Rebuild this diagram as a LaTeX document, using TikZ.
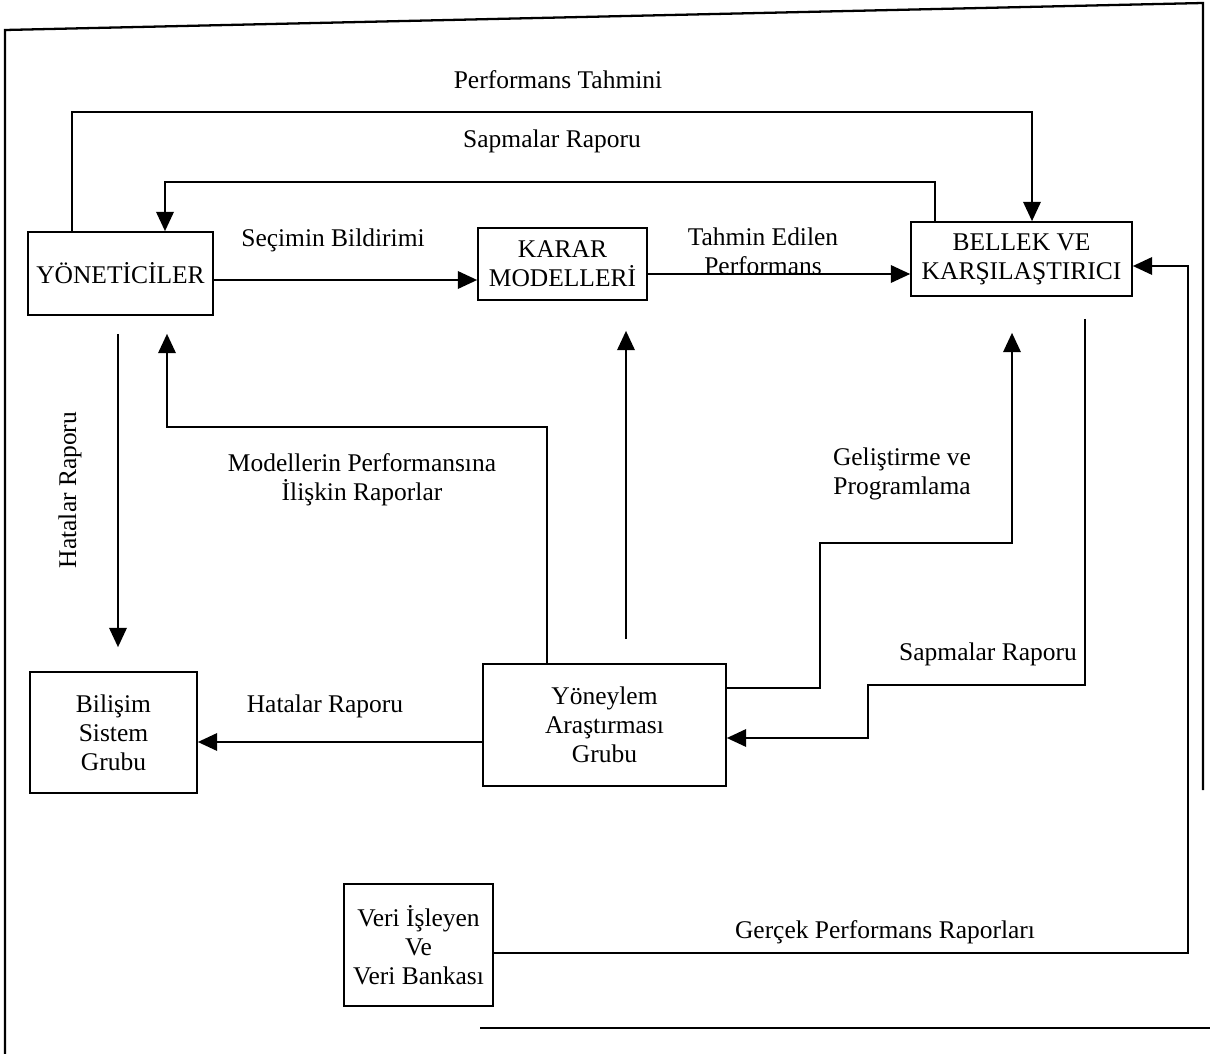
\documentclass[tikz,border=0pt]{standalone}
\usepackage{fontspec}
\setmainfont{Liberation Serif}
\usetikzlibrary{arrows.meta}
\begin{document}
\begin{tikzpicture}[x=0.02cm,y=-0.02cm,
  every node/.style={font=\fontsize{14.5}{16.5}\selectfont},
  box/.style={draw,line width=1pt,align=center,inner sep=0pt},
  lbl/.style={align=center,inner sep=1pt},
  conn/.style={line width=1pt},
  arr/.style={conn,-{Triangle[length=11pt,width=10pt]}},
  frame/.style={line width=1.3pt}]
\useasboundingbox (0,0) rectangle (1210,1054);
% frame
\coordinate (f1) at (5,1054);
\coordinate (f2) at (5,30);
\coordinate (f3) at (1203,3);
\coordinate (f4) at (1203,790);
\coordinate (f5) at (480,1028);
\coordinate (f6) at (1210,1028);
\draw[frame] (f1) -- (f2) -- (f3) -- (f4);
\draw[conn] (f5) -- (f6);
% nodes
\node[box,minimum width=3.7cm,minimum height=1.66cm] (yon) at (120.5,273.5) {YÖNETİCİLER};
\node[box,minimum width=3.38cm,minimum height=1.44cm] (karar) at (562.5,264) {KARAR\\MODELLERİ};
\node[box,minimum width=4.42cm,minimum height=1.48cm] (bellek) at (1021.5,259) {BELLEK VE\\KARŞILAŞTIRICI};
\node[box,minimum width=3.34cm,minimum height=2.42cm] (bilisim) at (113.5,732.5) {Bilişim\\Sistem\\Grubu};
\node[box,minimum width=4.86cm,minimum height=2.44cm] (yoneylem) at (604.5,725) {Yöneylem\\Araştırması\\Grubu};
\node[box,minimum width=2.98cm,minimum height=2.44cm] (veri) at (418.5,945) {Veri İşleyen\\Ve\\Veri Bankası};
% helper coordinates
\coordinate (xA) at (72,0);
\coordinate (xB) at (1032,0);
\coordinate (yA) at (0,112);
\coordinate (xC) at (935,0);
\coordinate (xD) at (165,0);
\coordinate (yC) at (0,182);
\coordinate (yS) at (0,280);
\coordinate (yT) at (0,274);
\coordinate (xH) at (118,0);
\coordinate (xM) at (547,0);
\coordinate (xN) at (167,0);
\coordinate (yM) at (0,427);
\coordinate (xK) at (626,0);
\coordinate (yG1) at (0,688);
\coordinate (xG1) at (820,0);
\coordinate (yG2) at (0,543);
\coordinate (xG2) at (1012,0);
\coordinate (xR) at (1085,0);
\coordinate (yR1) at (0,685);
\coordinate (xR2) at (868,0);
\coordinate (yR2) at (0,738);
\coordinate (yE) at (0,742);
\coordinate (yV) at (0,953);
\coordinate (xV) at (1188,0);
\coordinate (yV2) at (0,266);
% connectors
\draw[arr] (yon.north -| xA) -- (xA |- yA) -- (xB |- yA) -- (bellek.north -| xB);
\draw[arr] (bellek.north -| xC) -- (xC |- yC) -- (xD |- yC) -- (yon.north -| xD);
\draw[arr] (yon.east |- yS) -- (karar.west |- yS);
\draw[arr] (karar.east |- yT) -- (bellek.west |- yT);
\draw[arr,shorten <=0.36cm,shorten >=0.48cm] (yon.south -| xH) -- (bilisim.north -| xH);
\draw[arr,shorten >=0.36cm] (yoneylem.north -| xM) -- (xM |- yM) -- (xN |- yM) -- (yon.south -| xN);
\draw[arr,shorten <=0.48cm,shorten >=0.6cm] (yoneylem.north -| xK) -- (karar.south -| xK);
\draw[arr,shorten >=0.72cm] (yoneylem.east |- yG1) -- (xG1 |- yG1) -- (xG1 |- yG2) -- (xG2 |- yG2) -- (bellek.south -| xG2);
\draw[arr,shorten <=0.44cm] (bellek.south -| xR) -- (xR |- yR1) -- (xR2 |- yR1) -- (xR2 |- yR2) -- (yoneylem.east |- yR2);
\draw[arr] (yoneylem.west |- yE) -- (bilisim.east |- yE);
\draw[arr] (veri.east |- yV) -- (xV |- yV) -- (xV |- yV2) -- (bellek.east |- yV2);
% labels
\node[lbl] (l1) at (558,80) {Performans Tahmini};
\node[lbl] (l2) at (552,141) {Sapmalar Raporu};
\node[lbl] (l3) at (333,240) {Seçimin Bildirimi};
\node[lbl] (l4) at (763,251) {Tahmin Edilen\\Performans};
\node[lbl,rotate=90] (l5) at (70,490) {Hatalar Raporu};
\node[lbl] (l6) at (362,480) {Modellerin Performansına\\İlişkin Raporlar};
\node[lbl] (l7) at (902,474) {Geliştirme ve\\Programlama};
\node[lbl] (l8) at (988,654) {Sapmalar Raporu};
\node[lbl] (l9) at (325,706) {Hatalar Raporu};
\node[lbl] (l10) at (885,932) {Gerçek Performans Raporları};
\end{tikzpicture}
\end{document}
